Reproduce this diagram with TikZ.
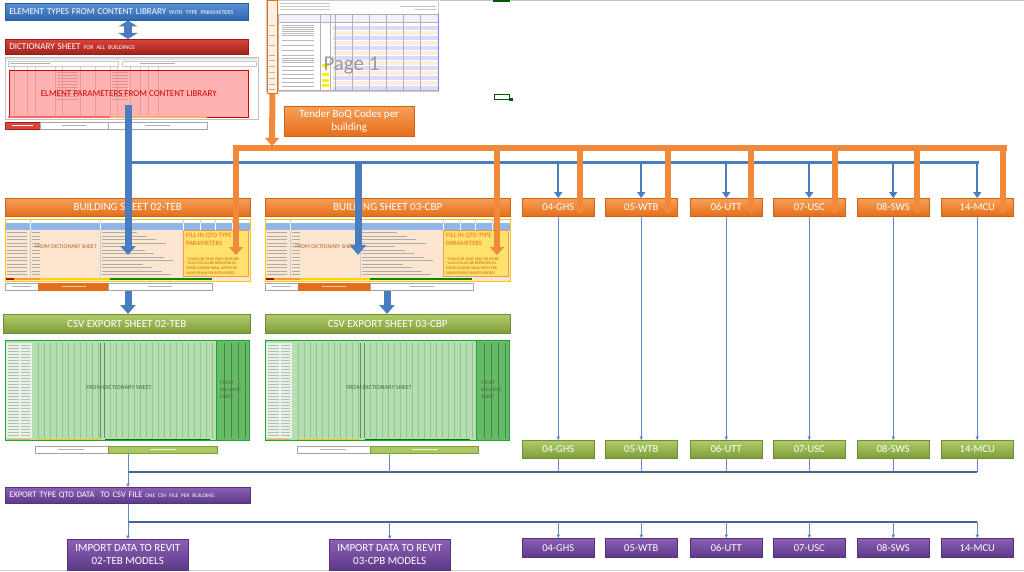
\documentclass[tikz,border=0pt]{standalone}
\usepackage{fontspec}
\setmainfont{Carlito}
\usetikzlibrary{arrows.meta}
\definecolor{bl1}{HTML}{5B8FD3}
\definecolor{bl2}{HTML}{2F66AD}
\definecolor{blA}{HTML}{4A7DC0}
\definecolor{rd1}{HTML}{D9443C}
\definecolor{rd2}{HTML}{A3211C}
\definecolor{or1}{HTML}{F8A058}
\definecolor{or2}{HTML}{E46E1A}
\definecolor{orA}{HTML}{F08A3A}
\definecolor{gr1}{HTML}{B0CC68}
\definecolor{gr2}{HTML}{7E9D3A}
\definecolor{pu1}{HTML}{8C5FB5}
\definecolor{pu2}{HTML}{5E3988}
\definecolor{lnk}{HTML}{5E8BC8}
\definecolor{dlnk}{HTML}{45658F}
\definecolor{peach}{HTML}{FCE6D0}
\definecolor{hblue}{HTML}{8FB6E4}
\definecolor{qy}{HTML}{FFE16B}
\definecolor{lgr}{HTML}{B6DEB2}
\definecolor{mgr}{HTML}{66BC66}
\definecolor{dgr}{HTML}{22A03A}
\definecolor{vgr}{HTML}{8CC88A}
\definecolor{fromc}{HTML}{B0642A}
\definecolor{cgtx}{HTML}{4A6A4A}
\newcommand{\bdetail}{%
  \fill[white] (5,219) rectangle (250,223);
  \fill[hblue] (5,223) rectangle (250,230);
  \foreach \x in {30,100,183,200,215,232} \draw[gray!40, line width=0.3pt] (\x,219) -- (\x,223);
  \foreach \x in {30,100,183,200,215,232} \draw[white, line width=0.4pt] (\x,223) -- (\x,230);
  \draw[gray!40, line width=0.3pt] (30,230) -- (30,277) (100,230) -- (100,277);
  \foreach \y in {232.5,236,...,275} {
    \pgfmathsetmacro{\L}{135+mod(int(\y*37),40)}
    \draw[gray!65, line width=0.55pt] (7,\y) -- (27,\y) (32,\y) -- (40,\y) (102,\y) -- (\L,\y);
  }
  \draw[draw=or2!70, fill=qy, line width=0.8pt] (183,230.5) rectangle (248.5,276.5);
  \fill[red!75!black] (6,277.5) rectangle (14,280);
  \fill[orange!80] (14,277.5) rectangle (40,280);
  \fill[yellow!70!orange] (40,277.5) rectangle (110,280);
  \fill[green!55!black] (110,277.5) rectangle (212,280);
  \draw[yellow!60!orange, line width=0.6pt] (5,219) rectangle (250,281);
}
\newcommand{\cdetail}{%
  \fill[lgr] (5,340) rectangle (250,441);
  \fill[white!65!lgr] (6,343) rectangle (32,438);
  \foreach \y in {345,348,...,435} \draw[gray!55, line width=0.45pt] (8,\y) -- (19,\y) (21,\y) -- (30,\y);
  \foreach \x in {38,44,...,212} \draw[vgr, line width=0.35pt] (\x,343) -- (\x,438);
  \draw[vgr!70!black, line width=0.5pt] (100,343) -- (100,438) (104,343) -- (104,438);
  \fill[mgr] (217,340) rectangle (250,441);
  \foreach \x in {224,231,238,245} \draw[mgr!70!black, line width=0.35pt] (\x,343) -- (\x,438);
  \fill[orange!70] (8,439) rectangle (30,440.5);
  \fill[yellow!60!orange] (36,439) rectangle (100,440.5);
  \fill[green!50!black] (105,439) rectangle (210,440.5);
  \draw[dgr, line width=1.1pt] (5.5,340.5) rectangle (249.5,440.5);
  \draw[dgr, line width=0.9pt] (216.5,341) -- (216.5,440);
}
\begin{document}
\begin{tikzpicture}[x=1pt,y=-1pt,
  basebox/.style={inner sep=0pt, text=white, align=center, line width=0.5pt},
  obox/.style={basebox, top color=or1, bottom color=or2, draw=or2!90!black},
  gbox/.style={basebox, top color=gr1, bottom color=gr2, draw=gr2!90!black},
  pbox/.style={basebox, top color=pu1, bottom color=pu2, draw=pu2!90!black},
  bbox/.style={basebox, top color=bl1, bottom color=bl2, draw=bl2!90!black},
  rbox/.style={basebox, top color=rd1, bottom color=rd2, draw=rd2!90!black},
  szsmall/.style={anchor=north west, minimum width=72pt, minimum height=18pt, font=\fontsize{10.5}{12}\selectfont},
  szwide/.style={anchor=north west, minimum width=245pt, minimum height=18pt, font=\fontsize{11}{13}\selectfont},
  shtab/.style={draw=gray!70, fill=white, minimum height=7pt, inner sep=0pt, anchor=north west, line width=0.5pt},
  plain/.style={inner sep=0pt, anchor=north west},
  bhd/.style={-{Triangle[width=15pt,length=9pt]}},
  ohd/.style={-{Triangle[width=14pt,length=8pt]}},
  mhd/.style={-{Triangle[width=8pt,length=6pt]}},
  shd/.style={-{Triangle[width=3.5pt,length=3.5pt]}},
  bthk/.style={draw=blA, line width=7pt},
  bbus/.style={draw=blA, line width=3pt, line cap=rect},
  bdrop/.style={draw=blA, line width=2pt},
  othk/.style={draw=orA, line width=6pt},
  vln/.style={draw=lnk, line width=0.8pt},
  dln/.style={draw=dlnk, line width=1.3pt}]
\useasboundingbox[fill=white] (0,0) rectangle (1024,572);

% frame lines
\draw[gray!45, line width=0.6pt] (440,0.8) -- (1024,0.8);
\fill[green!35!black] (493,0) rectangle (510,1.6);
\draw[gray!35, line width=1pt] (0,570.5) -- (1024,570.5);

% top boxes
\node[bbox, plain, minimum width=243pt, minimum height=17pt, text width=235pt, align=left, font=\fontsize{9}{10}\selectfont] (elem) at (5,3) {ELEMENT TYPES FROM CONTENT LIBRARY {\fontsize{6}{7}\selectfont WITH TYPE PARAMETERS}};
\node[rbox, plain, minimum width=243pt, minimum height=15pt, text width=235pt, align=left, font=\fontsize{9}{10}\selectfont] (dict) at (5,39) {DICTIONARY SHEET {\fontsize{6}{7}\selectfont FOR ALL BUILDINGS}};

% dictionary thumbnail
\node[plain, draw=gray!50, fill=white, minimum width=253pt, minimum height=62pt] (dsheet) at (5,57) {};
\fill[gray!20] (6,58) rectangle (257,60);
\draw[gray!45, line width=0.4pt] (8,61) rectangle (118,66);
\draw[gray!45, line width=0.4pt] (122,61) rectangle (256,66);
\draw[gray!60, line width=0.5pt] (10,63.5) -- (50,63.5) (140,63.5) -- (175,63.5);
\foreach \x in {14,27,35,55,62,80,95,110,117,130,140,148,158} \draw[gray!40, line width=0.3pt] (\x,67) -- (\x,116);
\foreach \y in {72,75,...,99} \draw[gray!55, line width=0.5pt] (57,\y) -- (78,\y) (112,\y) -- (128,\y);
\node[plain, draw=red!85!black, line width=0.6pt, fill=red!55, fill opacity=0.55, text opacity=1, minimum width=239pt, minimum height=47pt, text=red!80!black, font=\fontsize{9}{10}\selectfont] (pink) at (9,70) {ELMENT PARAMETERS FROM CONTENT LIBRARY};
\fill[red!60] (8,116.5) rectangle (110,118.5);
\fill[orange!60] (110,116.5) rectangle (207,118.5);
\node[shtab, fill=rd1, draw=rd2, minimum width=35pt] (dt1) at (5,122) {};
\node[shtab, minimum width=68pt] (dt2) at (40,122) {};
\node[shtab, minimum width=99pt] (dt3) at (108,122) {};
\draw[white, line width=0.5pt] (12,125.5) -- (33,125.5);
\draw[gray!60, line width=0.5pt] (62,125.5) -- (86,125.5) (145,125.5) -- (170,125.5);

% page 1 thumbnail
\node[plain, draw=gray!40, fill=white, minimum width=172pt, minimum height=91pt] (psheet) at (266,0) {};
\foreach \y in {3,6,9} \draw[gray!45, line width=0.5pt] (280,\y) -- (330,\y);
\draw[gray!45, line width=0.5pt] (400,6) -- (436,6) (415,9) -- (436,9);
\fill[blue!6] (278,14) rectangle (438,22);
\foreach \y in {26,36,46,56,66,76,86} \fill[blue!14] (333,\y) rectangle (438,\y+4);
\foreach \y in {31,41,51,61,71,81} \fill[orange!14] (333,\y) rectangle (438,\y+4);
\foreach \x in {278,320,330,335,352,369,386,403,420} \draw[gray!60, line width=0.3pt] (\x,14) -- (\x,90);
\draw[gray!60, line width=0.3pt] (278,14) -- (438,14) (278,22) -- (438,22) (278,90) -- (438,90);
\foreach \y in {25,27,29,31,33,35,40,45,50,55,58,60,62,66,70,74,78,82,86} \draw[gray!55, line width=0.4pt] (282,\y) -- (314,\y);
\foreach \y in {64,73,79,84} \fill[yellow] (322,\y) rectangle (329,\y+3);
\draw[blue!50, line width=0.6pt] (438,14) -- (438,91);
\node[plain, draw=or2, line width=0.9pt, fill=orange!12, minimum width=10pt, minimum height=93pt] (pcol) at (267,0) {};
\foreach \y in {25,35,45,55,60,66,72,78,84,89} \draw[gray!60, line width=0.4pt] (269,\y) -- (275,\y);
\node[text=gray!80, font=\fontsize{21}{22}\selectfont, inner sep=0pt] (pg) at (351.5,66) {Page 1};

% small icon
\node[draw=green!35!black, line width=1pt, minimum width=15pt, minimum height=5pt, inner sep=0pt] (icon) at (502,97) {};
\fill[green!35!black] (509,98) rectangle (512.5,101);

% tender box
\node[obox, plain, minimum width=130pt, minimum height=30pt, align=center, font=\fontsize{11}{13}\selectfont] (tender) at (284,106) {Tender BoQ Codes per\\building};

% building sheets
\node[obox, szwide] (bhA) at (5,198) {BUILDING SHEET 02-TEB};
\node[obox, szwide] (bhB) at (265,198) {BUILDING SHEET 03-CBP};
\node[plain, fill=peach, minimum width=245pt, minimum height=62pt] (tblA) at (5,219) {};
\node[plain, fill=peach, minimum width=245pt, minimum height=62pt] (tblB) at (265,219) {};
\bdetail
\begin{scope}[xshift=260pt]\bdetail\end{scope}
\node[text=fromc, font=\fontsize{5.8}{7}\selectfont, inner sep=0pt] (fdA) at (66,247) {FROM DICTIONARY SHEET};
\node[text=fromc, font=\fontsize{5.8}{7}\selectfont, inner sep=0pt] (fdB) at (326,247) {FROM DICTIONARY SHEET};
\node[plain, text=or2, font=\fontsize{6.6}{8.5}\selectfont, align=left] (fiA) at (186,233) {FILL IN QTO TYPE\\PARAMETERS};
\node[plain, text=or2, font=\fontsize{6.6}{8.5}\selectfont, align=left] (fiB) at (446,233) {FILL IN QTO TYPE\\PARAMETERS};
\node[plain, text=or2!85!black, font=\fontsize{4}{4.7}\selectfont, align=left] (ncA) at (186,257) {*COULD BE ONLY ONE OR MORE\\*ALSO COULD BE REPEATED IN\\SOME CASES(E WALL WITH THE\\SAME FINISH ON BOTH SIDES)};
\node[plain, text=or2!85!black, font=\fontsize{4}{4.7}\selectfont, align=left] (ncB) at (446,257) {*COULD BE ONLY ONE OR MORE\\*ALSO COULD BE REPEATED IN\\SOME CASES(E WALL WITH THE\\SAME FINISH ON BOTH SIDES)};
\node[shtab, minimum width=33pt] (btA1) at (5,283) {};
\node[shtab, fill=or2, draw=or2, minimum width=70pt] (btA2) at (38,283) {};
\node[shtab, minimum width=104pt] (btA3) at (108,283) {};
\node[shtab, minimum width=33pt] (btB1) at (265,283) {};
\node[shtab, fill=or2, draw=or2, minimum width=72pt] (btB2) at (298,283) {};
\node[shtab, minimum width=103pt] (btB3) at (370,283) {};
\draw[gray!60, line width=0.5pt] (12,286.5) -- (31,286.5) (148,286.5) -- (172,286.5) (272,286.5) -- (291,286.5) (410,286.5) -- (434,286.5);
\draw[orange!40, line width=0.5pt] (62,286.5) -- (86,286.5) (322,286.5) -- (346,286.5);

% CSV export sheets
\node[gbox, szwide, minimum width=247pt, minimum height=19pt] (chA) at (3,314) {CSV EXPORT SHEET 02-TEB};
\node[gbox, szwide, minimum height=19pt] (chB) at (265,314) {CSV EXPORT SHEET 03-CBP};
\node[plain, fill=lgr, minimum width=245pt, minimum height=101pt] (ctA) at (5,340) {};
\node[plain, fill=lgr, minimum width=245pt, minimum height=101pt] (ctB) at (265,340) {};
\cdetail
\begin{scope}[xshift=260pt]\cdetail\end{scope}
\node[text=cgtx, font=\fontsize{6.2}{7}\selectfont, inner sep=0pt] (cdA) at (119,388) {FROM DICTIONARY SHEET};
\node[text=cgtx, font=\fontsize{6.2}{7}\selectfont, inner sep=0pt] (cdB) at (379,388) {FROM DICTIONARY SHEET};
\node[plain, text=cgtx, font=\fontsize{5.2}{7}\selectfont, align=left] (cbA) at (220,381) {FROM\\BUILDING\\SHEET};
\node[plain, text=cgtx, font=\fontsize{5.2}{7}\selectfont, align=left] (cbB) at (481,381) {FROM\\BUILDING\\SHEET};
\node[shtab, minimum width=73pt] (ctA1) at (35,446) {};
\node[shtab, fill=gr1!90!gr2, draw=gr2, minimum width=109pt] (ctA2) at (108,446) {};
\node[shtab, minimum width=73pt] (ctB1) at (297,446) {};
\node[shtab, fill=gr1!90!gr2, draw=gr2, minimum width=108pt] (ctB2) at (370,446) {};
\draw[gray!60, line width=0.5pt] (58,449.5) -- (84,449.5) (320,449.5) -- (346,449.5);
\draw[white!70!gr1, line width=0.5pt] (150,449.5) -- (176,449.5) (412,449.5) -- (438,449.5);

% right column boxes
\foreach \n/\x/\t in {1/522/04-GHS, 2/605/05-WTB, 3/690/06-UTT, 4/773/07-USC, 5/857/08-SWS, 6/941/14-MCU} {
  \node[obox, szsmall] (o\n) at (\x,198) {\t};
  \node[gbox, szsmall] (g\n) at (\x,440) {\t};
  \node[pbox, szsmall, minimum height=19pt] (p\n) at (\x,538) {\t};
}

% export and import boxes
\node[pbox, plain, minimum width=245pt, minimum height=16pt, text width=237pt, align=left, font=\fontsize{8.5}{10}\selectfont] (exp) at (5,487) {EXPORT TYPE QTO DATA\ \ TO CSV FILE {\fontsize{5.5}{6}\selectfont ONE CSV FILE PER BUILDING}};
\node[pbox, plain, minimum width=121pt, minimum height=31pt, font=\fontsize{11}{13}\selectfont] (impA) at (67,539) {IMPORT DATA TO REVIT\\02-TEB MODELS};
\node[pbox, plain, minimum width=121pt, minimum height=31pt, font=\fontsize{11}{13}\selectfont] (impB) at (329,539) {IMPORT DATA TO REVIT\\03-CPB MODELS};

% ---- connectors ----
\coordinate (bx) at (128,105);
\coordinate (bj) at (128,163);
\coordinate (bendA) at (128,255);
\coordinate (bjB) at (358,163);
\coordinate (bendB) at (358,255);
\coordinate (bxB) at (387,0);

% blue double arrow
\draw[draw=blA, line width=8pt, {Triangle[width=19pt,length=6pt]}-{Triangle[width=19pt,length=6pt]}] (elem.south -| bx) -- (dict.north -| bx);

% blue bus (under the orange lines)
\draw[bbus] (bj) -- (bj -| o6);

% orange bus and arrows
\coordinate (ob0) at (233,148.5);
\coordinate (obE) at (1007,148.5);
\coordinate (pend) at (272,146);
\draw[othk] (ob0) -- (obE);
\draw[othk, ohd] (pcol.south) -- (pend);
\coordinate (oA) at (236,146);
\coordinate (oAe) at (236,255);
\coordinate (oB) at (497,146);
\coordinate (oBe) at (497,255);
\draw[othk, ohd] (oA) -- (oAe);
\draw[othk, ohd] (oB) -- (oBe);
\foreach \n/\x in {1/580,2/668,3/751,4/835,5/917,6/1003} {
  \coordinate (os\n) at (\x,146);
  \coordinate (oe\n) at (\x,214);
  \draw[othk, ohd] (os\n) -- (oe\n);
}

% blue main lines
\draw[bthk, bhd] (bx) -- (bendA);
\draw[bthk, {Triangle[width=16pt,length=10pt]}-] (bendB) -- (bjB);
\foreach \n in {1,...,6} \draw[bdrop, mhd] (bj -| o\n) -- (o\n.north);
\draw[bthk, bhd] (btA3.south -| bx) -- (chA.north -| bx);
\draw[bthk, bhd] (btB3.south -| bxB) -- (chB.north -| bxB);

% thin links
\foreach \n in {1,...,6} \draw[vln, shd] (o\n.south) -- (g\n.north);
\coordinate (lb) at (128,472);
\coordinate (lbB) at (389,472);
\coordinate (lc) at (128,522);
\foreach \n in {1,...,6} \draw[vln] (g\n.south) -- (g\n.south |- lb);
\draw[dln] (lb) -- (lb -| g6);
\draw[vln, shd] (ctA2.south -| lb) -- (exp.north -| lb);
\draw[vln] (ctB2.south -| lbB) -- (lbB);
\draw[vln] (exp.south -| lc) -- (lc);
\draw[dln] (lc) -- (lc -| p6);
\draw[vln, shd] (lc) -- (impA.north -| lc);
\draw[vln, shd] (lc -| impB) -- (impB.north);
\foreach \n in {1,...,6} \draw[vln, shd] (lc -| p\n) -- (p\n.north);
\end{tikzpicture}
\end{document}
